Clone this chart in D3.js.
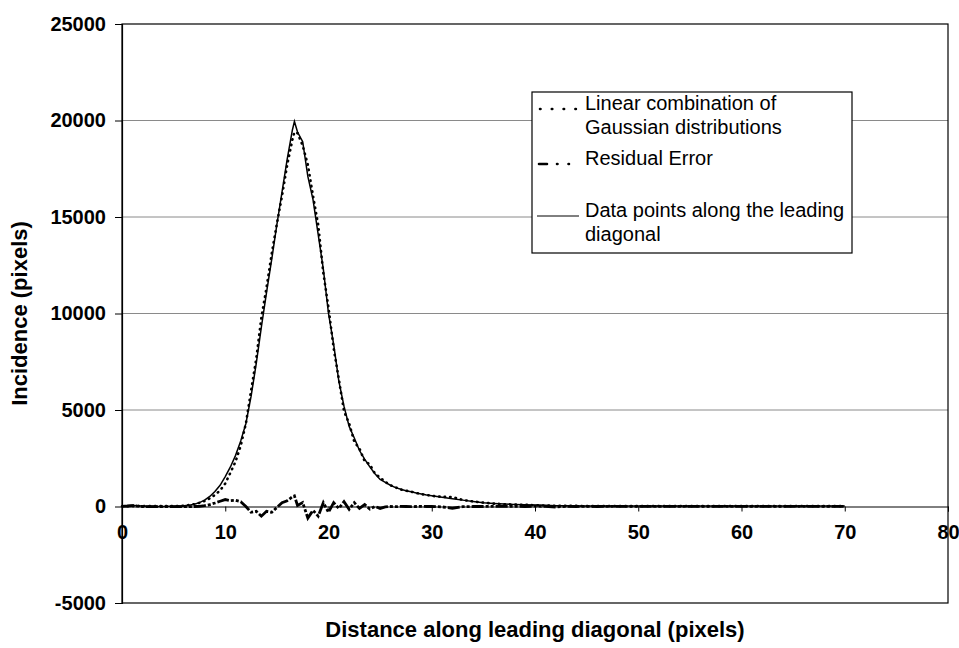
<!DOCTYPE html>
<html>
<head>
<meta charset="utf-8">
<script src="https://cdn.jsdelivr.net/npm/d3@7"></script>
<style>
  body { margin: 0; background: #fff; }
  svg { display: block; font-family: "Liberation Sans", Arial, sans-serif; }
</style>
</head>
<body>
<svg id="chart" width="959" height="648"></svg>
<script>
// distance along the leading diagonal (x values shared by all series)
const distance = [
  0, 0.5, 1, 1.5, 2, 2.5, 3, 3.5, 4, 4.5, 5, 5.5, 6, 6.5, 7, 7.5, 8, 8.5, 9, 9.5,
  10, 10.5, 11, 11.5, 12, 12.5, 13, 13.5, 14, 14.5, 15, 15.5, 16, 16.5, 16.7, 17,
  17.5, 18, 18.5, 19, 19.5, 20, 20.5, 21, 21.5, 22, 22.5, 23, 23.5, 24, 24.5, 25,
  25.5, 26, 26.5, 27, 27.5, 28, 28.5, 29, 29.5, 30,
  31, 32, 33, 34, 35, 36, 37, 38, 39, 40, 41, 42, 43, 44,
  45, 46, 47, 48, 49, 50, 51, 52, 53, 54, 55, 56, 57, 58, 59, 60,
  61, 62, 63, 64, 65, 66, 67, 68, 69, 70
];

// data points along the leading diagonal
const dataPoints = [
  20, 40, 60, 40, 20, 15, 10, 5, 5, 10, 15, 25, 40, 70, 120, 200, 330, 520, 780, 1100,
  1550, 2050, 2650, 3400, 4300, 5700, 7400, 9300, 11100, 12800, 14600, 16300, 18000, 19500, 19950, 19400,
  18900, 17100, 15900, 14100, 12300, 10000, 8400, 6500, 5200, 4150, 3550, 2900, 2450, 2050, 1700, 1400,
  1250, 1100, 980, 890, 820, 760, 700, 650, 600, 560,
  480, 400, 330, 260, 200, 160, 130, 110, 90, 80, 60, 40, 40, 30,
  30, 30, 28, 28, 26, 26, 25, 25, 25, 24, 24, 23, 23, 22, 22, 22,
  21, 21, 20, 20, 20, 20, 20, 20, 20, 20
];

// linear combination of Gaussian distributions (fit)
const gaussFit = [
  10, 15, 20, 25, 25, 25, 25, 20, 20, 20, 25, 30, 45, 75, 120, 190, 290, 420, 600, 830,
  1190, 1750, 2330, 3150, 4300, 6000, 7650, 9800, 11350, 13100, 14650, 16100, 17700, 19000, 19400, 19350,
  18700, 17700, 16100, 14600, 12100, 10300, 8200, 6600, 4950, 4300, 3350, 3000, 2350, 2180, 1700, 1500,
  1270, 1100, 990, 880, 820, 770, 700, 640, 600, 550,
  500, 490, 340, 260, 200, 150, 120, 100, 90, 60, 50, 40, 30, 30,
  20, 20, 20, 20, 20, 20, 20, 20, 20, 20, 20, 20, 20, 20, 20, 20,
  20, 20, 20, 20, 20, 20, 20, 20, 20, 20
];

// residual error
const residual = [
  10, 25, 50, 20, 0, -10, -10, -10, -10, -5, -5, -5, -5, -5, 0, 10, 40, 100, 180, 270,
  360, 300, 320, 250, 0, -300, -250, -500, -250, -300, -50, 200, 300, 500, 550, 50,
  200, -600, -200, -500, 200, -300, 200, -100, 250, -150, 200, -100, 100, -130, 0, -100,
  -20, 0, -10, 10, 0, -10, 0, 10, 0, 10,
  -20, -90, -10, 0, 0, 10, 10, 10, 0, 20, 10, -30, 10, 0,
  10, 0, 5, 5, 5, 5, 5, 5, 5, 5, 5, 5, 5, 5, 5, 5,
  5, 5, 5, 5, 5, 5, 5, 5, 5, 5
];

const xTicks = [0, 10, 20, 30, 40, 50, 60, 70, 80];
const yTicks = [-5000, 0, 5000, 10000, 15000, 20000, 25000];
const legendLabels = [
  ["Linear combination of", "Gaussian distributions"],
  ["Residual Error"],
  ["Data points along the leading", "diagonal"]
];

const svg = d3.select("#chart");
const plotLeft = 122, plotRight = 948, plotTop = 24, plotBottom = 603;

const x = d3.scaleLinear().domain([0, 80]).range([plotLeft, plotRight]);
const y = d3.scaleLinear().domain([-5000, 25000]).range([plotBottom, plotTop]);
const plain = d => String(d); // keep the ascii hyphen for negatives

// gridlines
svg.append("g")
  .selectAll("line")
  .data(yTicks.filter(t => t > 0 && t < 25000))
  .join("line")
  .attr("x1", plotLeft).attr("x2", plotRight)
  .attr("y1", d => y(d)).attr("y2", d => y(d))
  .attr("stroke", "#8a8a8a")
  .attr("stroke-width", 1);

// plot border
svg.append("rect")
  .attr("x", plotLeft).attr("y", plotTop)
  .attr("width", plotRight - plotLeft).attr("height", plotBottom - plotTop)
  .attr("fill", "none")
  .attr("stroke", "#000")
  .attr("stroke-width", 1.2);

// y axis
const yAxis = svg.append("g")
  .attr("transform", `translate(${plotLeft},0)`)
  .call(d3.axisLeft(y).tickValues(yTicks).tickSize(7).tickPadding(9).tickFormat(plain));
yAxis.select(".domain").attr("stroke", "#000").attr("stroke-width", 1.2);
yAxis.selectAll("text")
  .attr("font-size", 20).attr("font-weight", "bold").attr("font-family", "Liberation Sans, Arial, sans-serif")
  .attr("fill", "#000");

// x axis at y = 0
const xAxis = svg.append("g")
  .attr("transform", `translate(0,${y(0)})`)
  .call(d3.axisBottom(x).tickValues(xTicks).tickSize(5).tickPadding(13).tickFormat(plain));
xAxis.select(".domain").attr("stroke", "#000").attr("stroke-width", 1);
xAxis.selectAll("text")
  .attr("font-size", 20).attr("font-weight", "bold").attr("font-family", "Liberation Sans, Arial, sans-serif")
  .attr("fill", "#000");

// series
const line = series => d3.line()
  .x((d, i) => x(distance[i]))
  .y(d => y(d))(series);

svg.append("path")
  .attr("d", line(residual))
  .attr("fill", "none")
  .attr("stroke", "#000")
  .attr("stroke-width", 2.8)
  .attr("stroke-dasharray", "12,2,3,2,3,2");

svg.append("path")
  .attr("d", line(dataPoints))
  .attr("fill", "none")
  .attr("stroke", "#000")
  .attr("stroke-width", 1.5);

svg.append("path")
  .attr("d", line(gaussFit))
  .attr("fill", "none")
  .attr("stroke", "#000")
  .attr("stroke-width", 2.6)
  .attr("stroke-linecap", "round")
  .attr("stroke-dasharray", "0.5,5");

// axis titles
svg.append("text")
  .attr("x", (plotLeft + plotRight) / 2).attr("y", 637)
  .attr("text-anchor", "middle")
  .attr("font-size", 22).attr("font-weight", "bold")
  .text("Distance along leading diagonal (pixels)");

svg.append("text")
  .attr("transform", `translate(27,${(plotTop + plotBottom) / 2}) rotate(-90)`)
  .attr("text-anchor", "middle")
  .attr("font-size", 22).attr("font-weight", "bold")
  .text("Incidence (pixels)");

// legend
const legend = svg.append("g");
legend.append("rect")
  .attr("x", 532).attr("y", 92)
  .attr("width", 320).attr("height", 161)
  .attr("fill", "#fff")
  .attr("stroke", "#000")
  .attr("stroke-width", 1.2);

const rowY = [110, 165, 217];
const swatchStyle = [
  { x1: 540, x2: 577, w: 2.6, dash: "0.5,11.3", cap: "round" },
  { x1: 539, x2: 580, w: 2.6, dash: "8,10,0.5,11,0.5,30", cap: "round" },
  { x1: 537, x2: 579, w: 1, dash: null, cap: "butt" }
];
legendLabels.forEach((lines, i) => {
  const s = swatchStyle[i];
  legend.append("line")
    .attr("x1", s.x1).attr("x2", s.x2)
    .attr("y1", rowY[i] - 1).attr("y2", rowY[i] - 1)
    .attr("stroke", "#000")
    .attr("stroke-width", s.w)
    .attr("stroke-linecap", s.cap)
    .attr("stroke-dasharray", s.dash);
  lines.forEach((t, j) => {
    legend.append("text")
      .attr("x", 585).attr("y", rowY[i] + j * 24)
      .attr("font-size", 20)
      .text(t);
  });
});
</script>
</body>
</html>
